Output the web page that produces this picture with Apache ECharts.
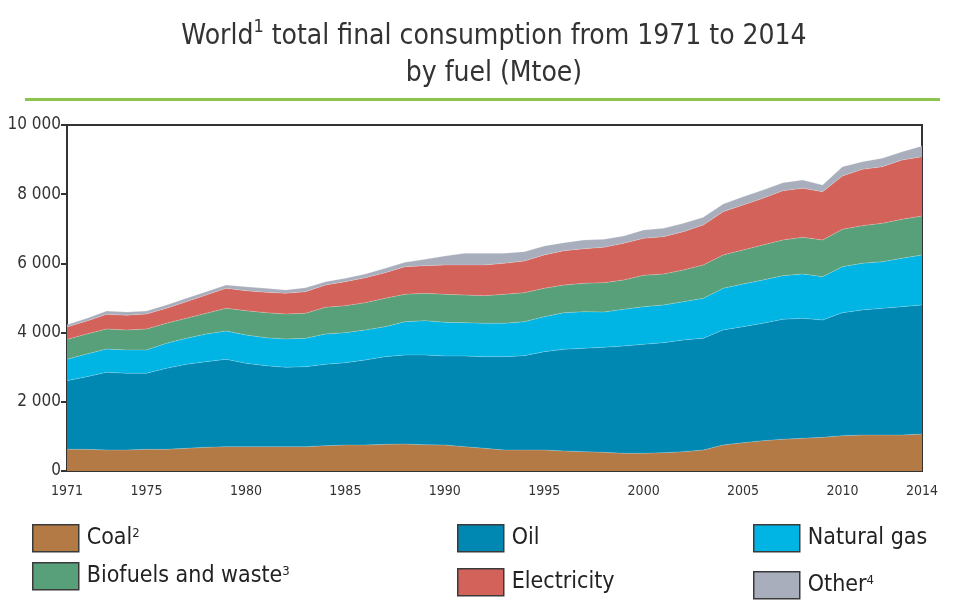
<!DOCTYPE html>
<html><head><meta charset="utf-8">
<script src="https://cdn.jsdelivr.net/npm/echarts@6/dist/echarts.min.js"></script>
<style>html,body{margin:0;padding:0;background:#fff}#c{width:960px;height:602px}</style>
</head><body><div id="c"></div>
<script>
const years = [];
for (let y = 1971; y <= 2014; y++) years.push(String(y));
const labelYears = ['1971','1975','1980','1985','1990','1995','2000','2005','2010','2014'];
const yTicks = [0, 2000, 4000, 6000, 8000, 10000];

const coal = [627,626,607,607,626,626,655,684,703,703,703,703,703,732,751,751,771,780,761,751,703,655,607,607,607,578,559,540,511,511,530,559,607,751,819,877,915,944,973,1021,1040,1040,1040,1069];
const oil = [1984,2100,2245,2216,2197,2341,2428,2476,2524,2409,2341,2294,2312,2351,2380,2457,2533,2573,2592,2573,2621,2649,2697,2726,2842,2938,2987,3034,3102,3150,3179,3227,3227,3324,3352,3391,3468,3468,3391,3555,3613,3661,3709,3729];
const gas = [617,656,674,674,674,723,751,800,819,819,809,818,819,877,867,867,867,963,992,973,963,964,964,983,1011,1060,1059,1021,1059,1088,1089,1108,1156,1204,1234,1252,1262,1282,1253,1330,1350,1348,1398,1445];
const biofuels = [575,578,578,578,607,578,578,597,655,703,723,722,723,770,780,790,819,790,790,809,800,800,838,838,819,800,819,848,848,906,896,915,964,964,982,1012,1031,1059,1059,1079,1088,1109,1127,1127];
const electricity = [360,375,424,424,433,433,482,530,578,578,588,598,626,646,694,723,742,800,800,848,867,886,896,915,964,992,1001,1021,1060,1070,1079,1108,1156,1252,1301,1349,1426,1417,1397,1541,1628,1637,1714,1714];
const other = [65,77,96,96,87,97,96,96,97,116,115,96,116,96,97,106,125,125,183,260,338,338,290,270,260,231,251,232,212,240,241,241,222,222,241,240,231,240,193,269,221,242,241,309];

const names = ['Coal','Oil','Natural gas','Biofuels and waste','Electricity','Other'];
const sups = {'Coal':'2','Biofuels and waste':'3','Other':'4'};
const colors = ['#B47A45','#0087B2','#00B4E4','#58A07A','#D3625A','#A9AEBC'];
const dataSets = [coal, oil, gas, biofuels, electricity, other];

const FONT = "'Liberation Sans Narrow','DejaVu Sans Condensed','Liberation Sans',sans-serif";
const chart = echarts.init(document.getElementById('c'));

const legendPos = {
  'Coal': {left: 27, top: 519},
  'Biofuels and waste': {left: 27, top: 557},
  'Oil': {left: 452, top: 519},
  'Electricity': {left: 452, top: 563},
  'Natural gas': {left: 748, top: 519},
  'Other': {left: 748, top: 566}
};

const legends = names.map(n => ({
  data: [n],
  left: legendPos[n].left, top: legendPos[n].top,
  orient: 'horizontal',
  itemWidth: 46, itemHeight: 27, itemGap: 0,
  icon: 'rect',
  selectedMode: false,
  itemStyle: {borderColor: '#3a3a3a', borderWidth: 1.5},
  formatter: name => sups[name] ? name + '{sup|' + sups[name] + '}' : name,
  textStyle: {
    fontFamily: FONT, fontSize: 23, color: '#222', padding: [0,0,0,3],
    rich: {sup: {fontFamily: FONT, fontSize: 13, color: '#222', verticalAlign: 'top', padding: [0,0,10,0]}}
  }
}));

chart.setOption({
  animation: false,
  title: {
    text: 'World{sup|1} total final consumption from 1971 to 2014\nby fuel (Mtoe)',
    left: 489, top: 13, textAlign: 'center',
    textStyle: {
      fontFamily: FONT, fontSize: 28, fontWeight: 'normal', color: '#333', lineHeight: 37,
      rich: {sup: {fontFamily: FONT, fontSize: 18, color: '#333', verticalAlign: 'top', padding: [0,0,12,0]}}
    }
  },
  graphic: [{
    type: 'rect', shape: {x: 25, y: 98, width: 915, height: 3},
    style: {fill: '#8DC44E'}
  }],
  legend: legends,
  grid: {left: 67, right: 38, top: 125, bottom: 131, show: true, borderColor: '#333', borderWidth: 2},
  xAxis: {
    type: 'category', data: years, boundaryGap: false,
    axisLine: {lineStyle: {color: '#333', width: 2}},
    axisTick: {show: true, inside: true, length: 4, interval: 0, lineStyle: {color: '#3a2a1a', width: 1.5}},
    axisLabel: {
      interval: (i, v) => labelYears.includes(v),
      fontFamily: FONT, fontSize: 14, color: '#333', margin: 13
    },
    splitLine: {show: false}
  },
  yAxis: {
    type: 'value', min: yTicks[0], max: yTicks[yTicks.length-1], interval: 2000,
    axisLine: {show: true, lineStyle: {color: '#333', width: 2}},
    axisTick: {show: true, length: 6, lineStyle: {color: '#333', width: 2}},
    axisLabel: {
      formatter: v => String(v).replace(/\B(?=(\d{3})+(?!\d))/g, ' '),
      fontFamily: FONT, fontSize: 17, color: '#333', margin: 6
    },
    splitLine: {show: false}
  },
  series: names.map((n, i) => ({
    name: n, type: 'line', stack: 'total', data: dataSets[i],
    symbol: 'none', smooth: false,
    lineStyle: {width: 0.6, color: 'rgba(255,255,255,0.35)'},
    itemStyle: {color: colors[i]},
    areaStyle: {color: colors[i], opacity: 1}
  }))
});
</script></body></html>
